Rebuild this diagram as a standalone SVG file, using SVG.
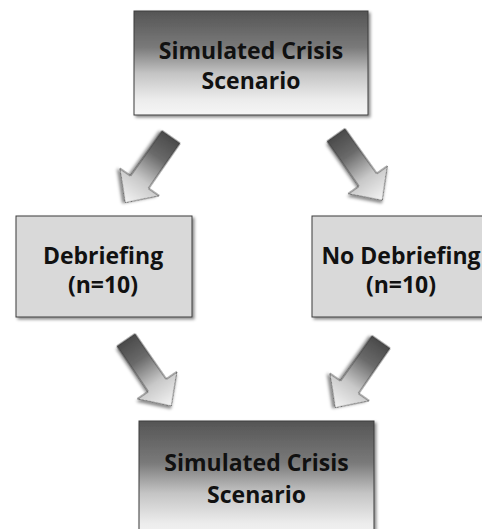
<svg xmlns="http://www.w3.org/2000/svg" width="482" height="529" viewBox="0 0 482 529">
  <defs>
    <linearGradient id="boxGrad" x1="0" y1="0" x2="0" y2="1">
      <stop offset="0" stop-color="#555555"/>
      <stop offset="0.35" stop-color="#7a7a7a"/>
      <stop offset="0.6" stop-color="#c4c4c4"/>
      <stop offset="0.85" stop-color="#ececec"/>
      <stop offset="1" stop-color="#f6f6f6"/>
    </linearGradient>
    <linearGradient id="arrowGrad" x1="0" y1="0" x2="1" y2="0">
      <stop offset="0" stop-color="#4a4a4a"/>
      <stop offset="0.3" stop-color="#6a6a6a"/>
      <stop offset="0.65" stop-color="#c8c8c8"/>
      <stop offset="1" stop-color="#f4f4f4"/>
    </linearGradient>
    <filter id="shadow" x="-20%" y="-20%" width="140%" height="140%">
      <feDropShadow dx="2" dy="2" stdDeviation="1.5" flood-color="#000" flood-opacity="0.45"/>
    </filter>
    <path id="arrowShape" d="M0,-11 L55,-11 L55,-24 L80,0 L55,24 L55,11 L0,11 Z"/>
  </defs>
  <style>
    .box { stroke: #3c3c3c; stroke-width: 1; filter: url(#shadow); }
    .grad { fill: url(#boxGrad); }
    .flat { fill: #d9d9d9; }
    .lbl { font-family: "Open Sans", "Liberation Sans", sans-serif; font-weight: bold; font-size: 23px; fill: #111111; text-anchor: middle; }
    .arrow { fill: url(#arrowGrad); stroke: #3a3a3a; stroke-width: 0.8; stroke-linejoin: miter; filter: url(#shadow); }
  </style>
  <rect width="482" height="529" fill="#ffffff"/>

  <g id="connectors">
    <use href="#arrowShape" class="arrow" transform="translate(171,137) rotate(124.9)"/>
    <use href="#arrowShape" class="arrow" transform="translate(336,135) rotate(54.7)"/>
    <use href="#arrowShape" class="arrow" transform="translate(126,340) rotate(55.5)"/>
    <use href="#arrowShape" class="arrow" transform="translate(381,342) rotate(124.9)"/>
  </g>

  <g id="top-scenario">
    <rect class="box grad" x="134" y="11" width="234" height="104"/>
    <text class="lbl" x="251" y="59">Simulated Crisis</text>
    <text class="lbl" x="251" y="89">Scenario</text>
  </g>

  <g id="debriefing">
    <rect class="box flat" x="16" y="216" width="176" height="101"/>
    <text class="lbl" x="103" y="264">Debriefing</text>
    <text class="lbl" x="103" y="293">(n=10)</text>
  </g>

  <g id="no-debriefing">
    <rect class="box flat" x="312" y="216" width="178" height="101"/>
    <text class="lbl" x="401" y="264">No Debriefing</text>
    <text class="lbl" x="401" y="293">(n=10)</text>
  </g>

  <g id="bottom-scenario">
    <rect class="box grad" x="139" y="421" width="235" height="120"/>
    <text class="lbl" x="256.5" y="471">Simulated Crisis</text>
    <text class="lbl" x="256.5" y="503">Scenario</text>
  </g>
</svg>
